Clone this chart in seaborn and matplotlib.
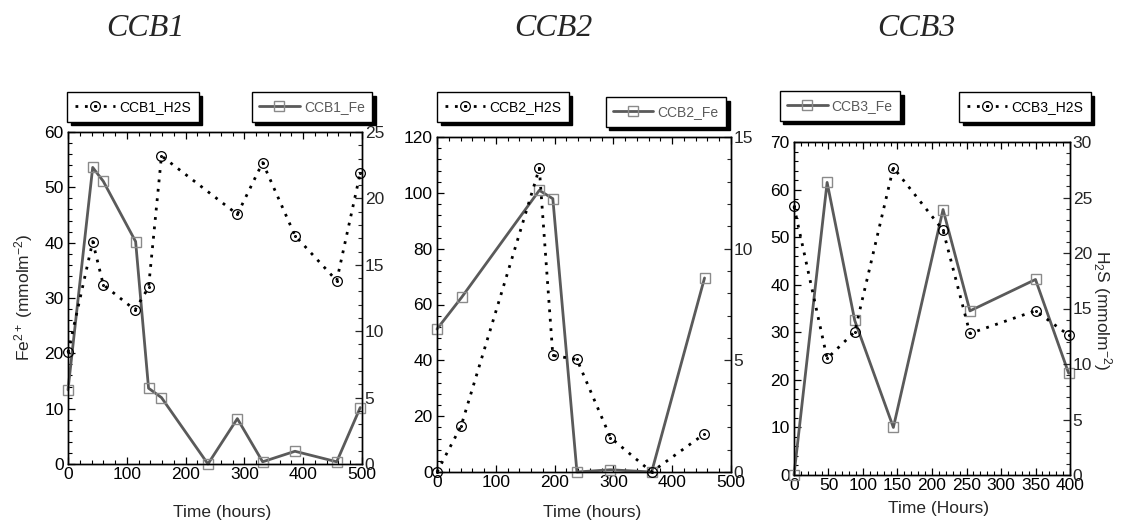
import matplotlib
matplotlib.use("Agg")
import matplotlib.pyplot as plt
from matplotlib.path import Path
from matplotlib.ticker import MultipleLocator
import seaborn as sns

# ---- data -------------------------------------------------------------
ccb1_fe_t = [0, 42, 60, 115, 137, 159, 238, 288, 331, 386, 457, 497]
ccb1_fe = [13.4, 53.6, 51.1, 40.2, 13.7, 12.0, 0.0, 8.2, 0.4, 2.3, 0.4, 10.2]
ccb1_h2s_t = [0, 42, 60, 114, 137, 159, 288, 331, 386, 457, 497]
ccb1_h2s = [8.4, 16.75, 13.5, 11.6, 13.3, 23.2, 18.8, 22.7, 17.2, 13.8, 21.9]

ccb2_fe_t = [0, 42, 174, 197, 238, 295, 365, 455]
ccb2_fe = [51.2, 62.6, 100.9, 97.9, 0.0, 0.8, 0.0, 69.5]
ccb2_h2s_t = [0, 41, 174, 197, 238, 295, 365, 454]
ccb2_h2s = [0.0, 2.06, 13.6, 5.22, 5.04, 1.54, 0.0, 1.69]

ccb3_t = [0, 48, 88, 144, 216, 255, 350, 398]
ccb3_fe = [0.0, 61.5, 32.5, 10.0, 55.8, 34.5, 41.1, 21.4]
ccb3_h2s = [24.2, 10.5, 12.9, 27.7, 22.05, 12.75, 14.8, 12.6]

titles = ["CCB1", "CCB2", "CCB3"]

# ---- style ------------------------------------------------------------
sns.set_style("ticks")
plt.rcParams["font.family"] = ["Liberation Sans", "DejaVu Sans"]
plt.rcParams["mathtext.fontset"] = "custom"
plt.rcParams["mathtext.rm"] = "Liberation Sans"
plt.rcParams["mathtext.it"] = "Liberation Sans:italic"

FE_COLOR = "#5a5a5a"
FE_MARKER_EDGE = "#8a8a8a"
H2S_COLOR = "black"
TICK_SIZE = 12.5

# open circle with a centre dot
circ_dot = Path.make_compound_path(Path.unit_circle(), Path.circle((0, 0), 0.18))

fig = plt.figure(figsize=(11.25, 5.25), dpi=100)
W, H = 1125, 525


def px_axes(left, top, right, bottom):
    return fig.add_axes([left / W, 1 - bottom / H, (right - left) / W, (bottom - top) / H])


def fe_line(ax, t, v, label):
    sns.lineplot(x=t, y=v, ax=ax, color=FE_COLOR, linewidth=2.0, marker="s",
                 markersize=6.5, markerfacecolor="none", markeredgecolor=FE_MARKER_EDGE,
                 markeredgewidth=1.0, estimator=None, sort=False, legend=False,
                 label=label, clip_on=False, zorder=3)
    return ax.lines[-1]


def h2s_line(ax, t, v, label):
    sns.lineplot(x=t, y=v, ax=ax, color=H2S_COLOR, linewidth=2.0,
                 linestyle=(0, (1, 2.4)), marker=circ_dot, markersize=7,
                 markerfacecolor="none", markeredgecolor=H2S_COLOR,
                 markeredgewidth=0.9, estimator=None, sort=False, legend=False,
                 label=label, clip_on=False, zorder=3)
    return ax.lines[-1]


def style_axes(ax, ax2, xmax, xmaj, xmin, ymax, ymaj, ymin, y2max, y2maj, y2min):
    ax.set_xlim(0, xmax)
    ax.set_ylim(0, ymax)
    ax2.set_ylim(0, y2max)
    ax.xaxis.set_major_locator(MultipleLocator(xmaj))
    ax.xaxis.set_minor_locator(MultipleLocator(xmin))
    ax.yaxis.set_major_locator(MultipleLocator(ymaj))
    ax.yaxis.set_minor_locator(MultipleLocator(ymin))
    ax2.yaxis.set_major_locator(MultipleLocator(y2maj))
    ax2.yaxis.set_minor_locator(MultipleLocator(y2min))
    ax.tick_params(which="both", direction="in", top=True, right=False,
                   labelsize=TICK_SIZE, colors="black")
    ax.tick_params(which="major", length=5, width=0.9)
    ax.tick_params(which="minor", length=2.8, width=0.8)
    ax.tick_params(axis="x", pad=2)
    ax.tick_params(axis="y", pad=3)
    ax2.tick_params(which="both", direction="in", right=True, labelsize=TICK_SIZE, pad=2)
    ax2.tick_params(which="major", length=5, width=0.9)
    ax2.tick_params(which="minor", length=2.8, width=0.8)
    for a in (ax, ax2):
        for s in a.spines.values():
            s.set_visible(True)
            s.set_linewidth(1.0)
            s.set_color("black")
        a.set_xlabel("")
        a.set_ylabel("")


def add_legend(handle, text, cx, cy, tcolor):
    fig.legend(handles=[handle], labels=[text], loc="center",
               bbox_to_anchor=(cx / W, 1 - cy / H), bbox_transform=fig.transFigure,
               fontsize=10, labelcolor=tcolor, handlelength=2.9, handletextpad=0.3,
               borderpad=0.55, fancybox=False, framealpha=1, edgecolor="black",
               shadow={"color": "black", "alpha": 1, "ox": 2.5, "oy": -2.5})


def xlabel(ax, text, cx, cy, left, right, bottom, top):
    ax.set_xlabel(text, fontsize=12.5)
    ax.xaxis.label.set_va("center")
    ax.xaxis.set_label_coords((cx - left) / (right - left), (bottom - cy) / (bottom - top))


# ---- panel 1 ----------------------------------------------------------
a1 = px_axes(68, 132, 362, 464)
b1 = a1.twinx()
h_fe1 = fe_line(a1, ccb1_fe_t, ccb1_fe, "CCB1_Fe")
h_h1 = h2s_line(b1, ccb1_h2s_t, ccb1_h2s, "CCB1_H2S")
style_axes(a1, b1, 500, 100, 20, 60, 10, 2, 25, 5, 1)
xlabel(a1, "Time (hours)", 222, 512, 68, 362, 464, 132)
a1.set_ylabel("Fe$^{2+}$ (mmolm$^{-2}$)", fontsize=12.5)
a1.yaxis.label.set_va("center")
a1.yaxis.set_label_coords((24 - 68) / 294, (464 - 297) / 332)
add_legend(h_h1, "CCB1_H2S", 133, 107, "black")
add_legend(h_fe1, "CCB1_Fe", 312, 107, FE_COLOR)

# ---- panel 2 ----------------------------------------------------------
a2 = px_axes(437, 137, 731, 472)
b2 = a2.twinx()
h_fe2 = fe_line(a2, ccb2_fe_t, ccb2_fe, "CCB2_Fe")
h_h2 = h2s_line(b2, ccb2_h2s_t, ccb2_h2s, "CCB2_H2S")
style_axes(a2, b2, 500, 100, 20, 120, 20, 4, 15, 5, 1)
xlabel(a2, "Time (hours)", 592, 512, 437, 731, 472, 137)
add_legend(h_h2, "CCB2_H2S", 503, 107, "black")
add_legend(h_fe2, "CCB2_Fe", 666, 112, FE_COLOR)

# ---- panel 3 ----------------------------------------------------------
a3 = px_axes(794, 142, 1070, 475)
b3 = a3.twinx()
h_fe3 = fe_line(a3, ccb3_t, ccb3_fe, "CCB3_Fe")
h_h3 = h2s_line(b3, ccb3_t, ccb3_h2s, "CCB3_H2S")
style_axes(a3, b3, 400, 50, 10, 70, 10, 2, 30, 5, 1)
xlabel(a3, "Time (Hours)", 939, 508, 794, 1070, 475, 142)
b3.set_ylabel("H$_2$S (mmolm$^{-2}$)", fontsize=12.5, rotation=270)
b3.yaxis.label.set_va("center")
b3.yaxis.set_label_coords((1102 - 794) / 276, (475 - 310) / 333)
add_legend(h_fe3, "CCB3_Fe", 840, 106, FE_COLOR)
add_legend(h_h3, "CCB3_H2S", 1025, 107, "black")

# ---- titles -----------------------------------------------------------
for txt, cx in zip(titles, [145, 553, 916]):
    fig.text(cx / W, 1 - 29 / H, txt, fontsize=23, family="Liberation Serif",
             style="italic", ha="center", va="center")

fig.savefig("out.png", dpi=100)
